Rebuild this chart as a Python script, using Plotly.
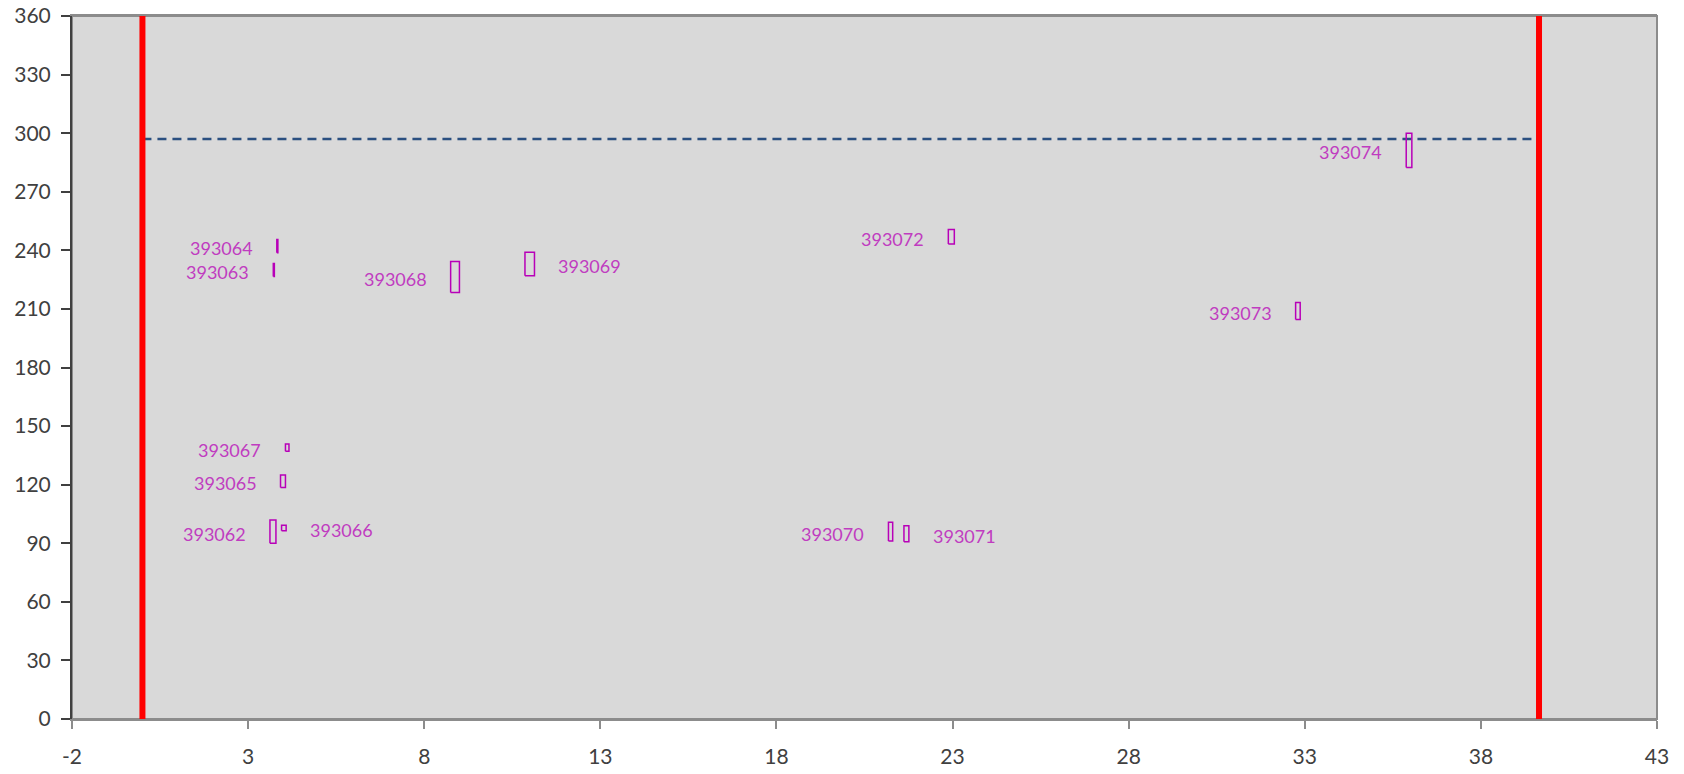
import plotly.graph_objects as go

# ---- data ----
ids = ["393062", "393063", "393064", "393065", "393066", "393067", "393068",
       "393069", "393070", "393071", "393072", "393073", "393074"]
x_lo = [3.62, 3.715, 3.815, 3.92, 3.95, 4.06, 8.75, 10.86, 21.18, 21.62, 22.88, 32.74, 35.88]
x_hi = [3.79, 3.745, 3.845, 4.06, 4.08, 4.16, 9.00, 11.13, 21.30, 21.76, 23.05, 32.87, 36.04]
y_lo = [90.0, 226.6, 238.8, 118.6, 96.4, 137.1, 218.4, 227.0, 91.1, 90.8, 243.2, 204.6, 282.4]
y_hi = [101.9, 233.3, 245.6, 124.9, 99.2, 140.8, 234.3, 239.0, 100.7, 99.0, 250.7, 213.3, 299.9]
label_side = ["left", "left", "left", "left", "right", "left", "left",
              "right", "left", "right", "left", "left", "left"]

limit_x = [0, 39.65]          # vertical red limits
limit_y = [0, 360]
target_y = 297                # dashed horizontal line

x_ticks = [-2, 3, 8, 13, 18, 23, 28, 33, 38, 43]
x_tick_text = ["-2", "3", "8", "13", "18", "23", "28", "33", "38", "43"]
y_ticks = [0, 30, 60, 90, 120, 150, 180, 210, 240, 270, 300, 330, 360]
x_range = [-2, 43]
y_range = [0, 360]

RECT_COLOR = "#B800B8"
LABEL_COLOR = "#C03CC0"
TICK_COLOR = "#404040"

fig = go.Figure()

# dashed target line between the two limits
fig.add_trace(go.Scatter(x=limit_x, y=[target_y, target_y], mode="lines",
                         line=dict(color="#2B4F80", width=2.4, dash="9px,6px"),
                         hoverinfo="skip", showlegend=False))

# red limit lines
for lx in limit_x:
    fig.add_trace(go.Scatter(x=[lx, lx], y=limit_y, mode="lines",
                             line=dict(color="#FF0000", width=6),
                             hoverinfo="skip", showlegend=False))

# rectangles (x range / y range boxes)
for i, name in enumerate(ids):
    xs = [x_lo[i], x_hi[i], x_hi[i], x_lo[i], x_lo[i]]
    ys = [y_lo[i], y_lo[i], y_hi[i], y_hi[i], y_lo[i]]
    fig.add_trace(go.Scatter(x=xs, y=ys, mode="lines",
                             line=dict(color=RECT_COLOR, width=1.5),
                             name=name, showlegend=False))
    yc = (y_lo[i] + y_hi[i]) / 2
    if label_side[i] == "left":
        fig.add_annotation(x=x_lo[i], y=yc, text=name, showarrow=False,
                           xanchor="right", yanchor="middle", xshift=-22, yshift=-2,
                           font=dict(family="Lato", size=18, color=LABEL_COLOR))
    else:
        fig.add_annotation(x=x_hi[i], y=yc, text=name, showarrow=False,
                           xanchor="left", yanchor="middle", xshift=22, yshift=-2,
                           font=dict(family="Lato", size=18, color=LABEL_COLOR))

# plot-area border (gray)
fig.add_shape(type="rect", xref="paper", yref="paper", x0=0, y0=0, x1=1, y1=1,
              line=dict(color="#8C8C8C", width=2), layer="below")

fig.update_layout(
    width=1684, height=774,
    margin=dict(l=72, r=27, t=16, b=55),
    paper_bgcolor="white",
    plot_bgcolor="#D9D9D9",
    font=dict(family="Lato", color=TICK_COLOR),
    showlegend=False,
)
fig.update_xaxes(range=x_range, tickmode="array", tickvals=x_ticks, ticktext=x_tick_text,
                 showgrid=False, zeroline=False, automargin=False,
                 ticklabeloverflow="allow",
                 showline=True, linecolor="#8C8C8C", linewidth=2, mirror=True,
                 ticks="outside", ticklen=8, tickcolor="#8C8C8C", tickwidth=1.5,
                 tickfont=dict(family="Lato", size=21, color=TICK_COLOR),
                 ticklabelstandoff=10)
fig.update_yaxes(range=y_range, tickmode="array", tickvals=y_ticks,
                 showgrid=False, zeroline=False, automargin=False,
                 ticklabeloverflow="allow",
                 showline=True, linecolor="#404040", linewidth=2,
                 ticks="outside", ticklen=9, tickcolor="#404040", tickwidth=1.5,
                 tickfont=dict(family="Lato", size=21, color=TICK_COLOR),
                 ticklabelstandoff=6)

# remove the default page margin so the figure sits at the window's top-left corner
fig.write_html("out.html",
               config={"displayModeBar": False},
               post_script="document.body.style.margin='0';document.body.style.overflow='hidden';")
